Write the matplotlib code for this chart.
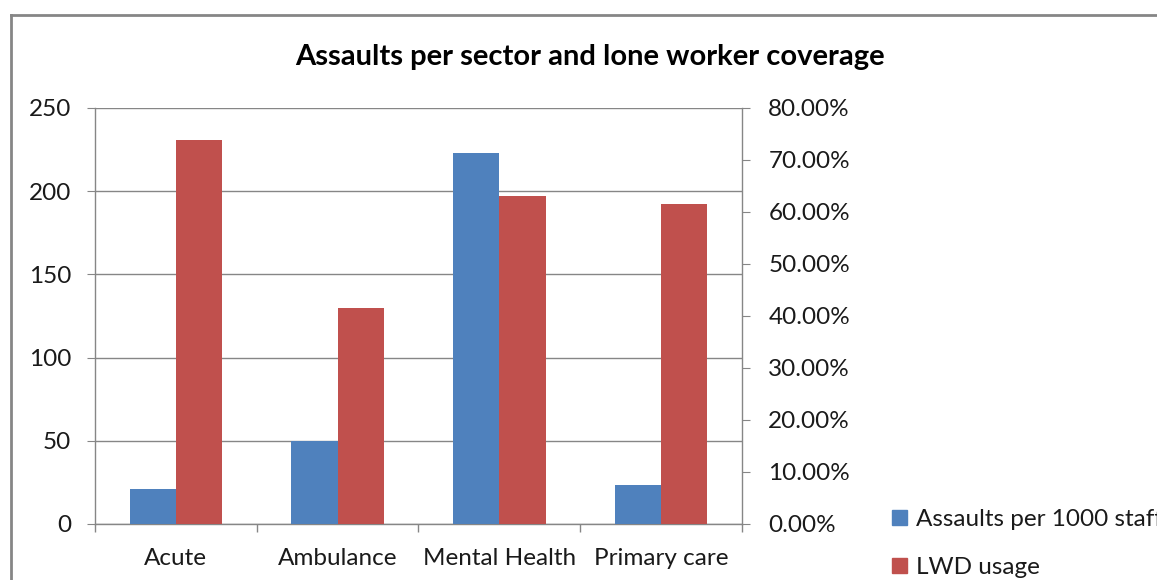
import matplotlib
matplotlib.use("Agg")
import matplotlib.pyplot as plt
import numpy as np
from matplotlib.lines import Line2D

# data
sectors = ["Acute", "Ambulance", "Mental Health", "Primary care"]
assaults = [21, 50, 223, 23.5]
lwd_usage = [73.8, 41.6, 63.1, 61.6]

left_ticks = [0, 50, 100, 150, 200, 250]
right_ticks = [0, 10, 20, 30, 40, 50, 60, 70, 80]

blue = "#4f81bd"
red = "#c0504d"
grey = "#868686"
txt = "#1a1a1a"

plt.rcParams["font.family"] = ["Lato", "DejaVu Sans"]

fig = plt.figure(figsize=(11.57, 5.80), dpi=100)

ax = fig.add_axes([0.0821, 0.0966, 0.5592, 0.7172])
ax2 = ax.twinx()

x = np.arange(len(sectors))
w = 1 / 3.5
ax.bar(x - w / 2, assaults, width=w, color=blue, zorder=3)
ax2.bar(x + w / 2, lwd_usage, width=w, color=red, zorder=3)

ax.set_xlim(-0.5, len(sectors) - 0.5)
ax.set_ylim(0, 250)
ax2.set_ylim(0, 80)

ax.set_yticks(left_ticks)
ax.set_yticklabels([str(t) for t in left_ticks])
ax2.set_yticks(right_ticks)
ax2.set_yticklabels([f"{t:.2f}%" for t in right_ticks])

ax.set_xticks(x)
ax.set_xticklabels(sectors)
ax.set_xticks(np.arange(-0.5, len(sectors)), minor=True)
ax.tick_params(axis="x", which="major", length=0, pad=17)
ax.tick_params(axis="x", which="minor", length=6, color=grey, width=1)

ax.grid(axis="y", color=grey, linewidth=1, zorder=0)
ax.set_axisbelow(True)

for a in (ax, ax2):
    for s in a.spines.values():
        s.set_color(grey)
        s.set_linewidth(1)
    a.spines["top"].set_visible(False)
ax.spines["right"].set_visible(False)
ax2.spines["left"].set_visible(False)
ax2.spines["bottom"].set_visible(False)

ax.tick_params(axis="y", length=6, color=grey, labelsize=17.5, labelcolor=txt, pad=11)
ax.tick_params(axis="x", labelsize=17.5, labelcolor=txt)
ax2.tick_params(axis="y", length=6, color=grey, labelsize=17.5, labelcolor=txt, pad=13)

fig.text(0.51, 0.902, "Assaults per sector and lone worker coverage",
         ha="center", va="center", fontsize=21, fontweight="bold", color="black")

# legend on the right
handles = [plt.Rectangle((0, 0), 1, 1, color=blue),
           plt.Rectangle((0, 0), 1, 1, color=red)]
fig.legend(handles, ["Assaults per 1000 staff", "LWD usage"],
           loc="upper left", bbox_to_anchor=(0.771, 0.122), frameon=False,
           fontsize=17.5, handlelength=0.6, handleheight=0.6, handletextpad=0.4,
           labelspacing=1.1, borderaxespad=0, borderpad=0, labelcolor=txt)

# chart border (clipped on right and bottom)
fig.add_artist(Line2D([0.0095, 0.0095], [0, 0.974], color=grey, linewidth=2,
                      transform=fig.transFigure))
fig.add_artist(Line2D([0.0095, 1.0], [0.974, 0.974], color=grey, linewidth=2,
                      transform=fig.transFigure))

fig.savefig("out.png", dpi=100)
